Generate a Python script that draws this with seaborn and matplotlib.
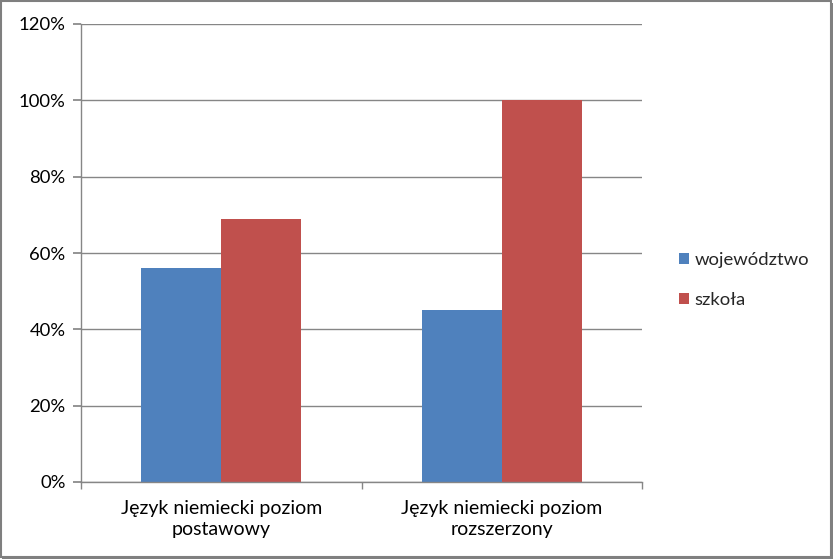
import matplotlib
matplotlib.use("Agg")
import matplotlib.pyplot as plt
import seaborn as sns
import pandas as pd
from matplotlib.patches import Rectangle
from matplotlib.ticker import FuncFormatter

categories = ["Język niemiecki poziom\npostawowy", "Język niemiecki poziom\nrozszerzony"]
series_names = ["województwo", "szkoła"]
wojewodztwo = [56, 45]
szkola = [69, 100]
y_ticks = [0, 20, 40, 60, 80, 100, 120]
colors = ["#4F81BD", "#C0504D"]

df = pd.DataFrame({
    "kategoria": categories * 2,
    "seria": [series_names[0]] * 2 + [series_names[1]] * 2,
    "wartosc": wojewodztwo + szkola,
})

sns.set_theme(style="white")
plt.rcParams['font.family'] = ['Lato', 'DejaVu Sans']

fig = plt.figure(figsize=(8.33, 5.59), dpi=100)
ax = fig.add_axes([81/833, 1 - 482/559, (642-81)/833, (482-24)/559])

sns.barplot(data=df, x="kategoria", y="wartosc", hue="seria", palette=colors,
            width=0.571, gap=0, saturation=1, ax=ax, legend=True)

ax.set_ylim(0, 120)
ax.set_xlim(-0.5, 1.5)
ax.set_yticks(y_ticks)
ax.yaxis.set_major_formatter(FuncFormatter(lambda v, p: f"{int(v)}%"))
ax.grid(axis="y", color="#868686", linewidth=1)
ax.set_axisbelow(True)
for b in ax.patches:
    b.set_edgecolor("none")
ax.set_xlabel("")
ax.set_ylabel("")
for s in ["top", "right"]:
    ax.spines[s].set_visible(False)
for s in ["left", "bottom"]:
    ax.spines[s].set_color("#868686")
    ax.spines[s].set_linewidth(1)
ax.tick_params(axis="y", length=6, color="#868686", direction="out", left=True,
               labelsize=13.3, labelcolor="black", pad=5)
ax.set_xticks([-0.5, 0.5, 1.5], minor=True)
ax.tick_params(axis="x", which="minor", length=5, color="#868686", direction="out", bottom=True)
ax.tick_params(axis="x", which="major", length=0, labelsize=14, labelcolor="black", pad=13)
for t in ax.get_xticklabels():
    t.set_linespacing(1.3)

h, l = ax.get_legend_handles_labels()
ax.legend(h, l, loc="center left", bbox_to_anchor=(662/833, 1 - 280/559),
          bbox_transform=fig.transFigure, frameon=False, fontsize=13.3,
          handlelength=0.55, handleheight=0.55, handletextpad=0.3, labelspacing=1.3)

fig.patches.append(Rectangle((0.5/833, 2/559), 830/833, 556/559, transform=fig.transFigure,
                             fill=False, edgecolor="#7F7F7F", linewidth=1.5))
fig.patches.append(Rectangle((830/833, 0), 3/833, 556/559, transform=fig.transFigure,
                             facecolor="#808080", edgecolor="none"))
fig.patches.append(Rectangle((2/833, 0), 831/833, 3/559, transform=fig.transFigure,
                             facecolor="#808080", edgecolor="none"))

fig.savefig("out.png", dpi=100)
